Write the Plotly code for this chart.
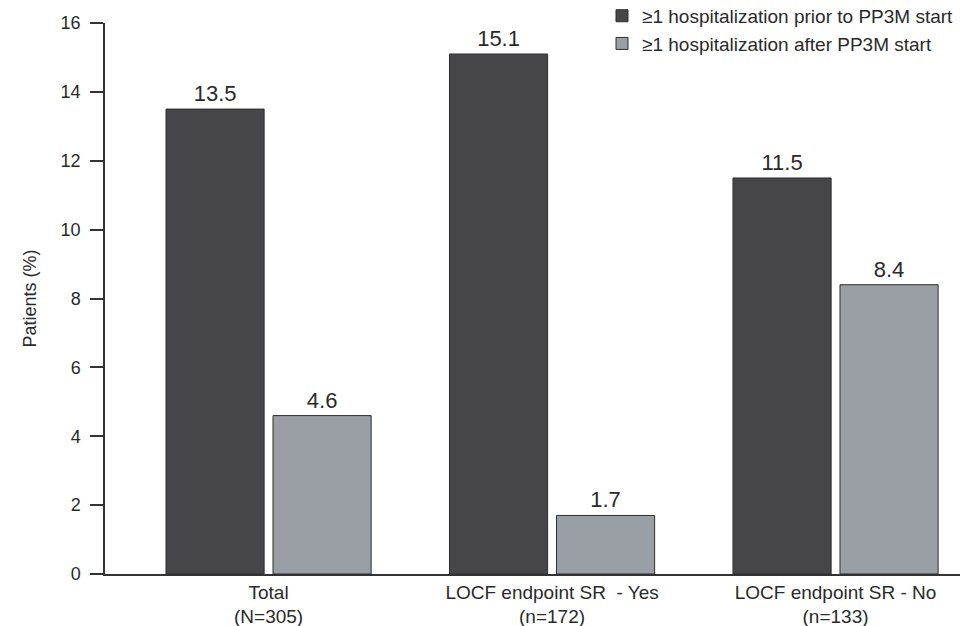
import plotly.graph_objects as go

categories = ["Total<br>(N=305)", "LOCF endpoint SR  - Yes<br>(n=172)", "LOCF endpoint SR - No<br>(n=133)"]
prior_values = [13.5, 15.1, 11.5]
after_values = [4.6, 1.7, 8.4]
series_names = ["\u22651 hospitalization prior to PP3M start", "\u22651 hospitalization after PP3M start"]
y_ticks = [0, 2, 4, 6, 8, 10, 12, 14, 16]

FONT = "Liberation Sans, Arial, Helvetica, sans-serif"
TXT = "#2a2a2a"

W, H = 963, 626
ML, MR, MT, MB = 5, 0, 0, 5
PW, PH = W - ML - MR, H - MT - MB
x_dom = [(105 - ML) / PW, (960 - ML) / PW]
y_dom = [(H - MB - 574) / PH, (H - MB - 23) / PH]

fig = go.Figure()
fig.add_trace(go.Bar(
    x=categories, y=prior_values, name=series_names[0],
    marker=dict(color="#464648", line=dict(color="#2e2e2e", width=1)),
    text=[f"{v:.1f}" for v in prior_values], textposition="outside",
    textfont=dict(size=22, color=TXT, family=FONT), cliponaxis=False,
))
fig.add_trace(go.Bar(
    x=categories, y=after_values, name=series_names[1],
    marker=dict(color="#9a9ea5", line=dict(color="#2e2e2e", width=1)),
    text=[f"{v:.1f}" for v in after_values], textposition="outside",
    textfont=dict(size=22, color=TXT, family=FONT), cliponaxis=False,
))

fig.update_layout(
    width=W, height=H,
    margin=dict(l=ML, r=MR, t=MT, b=MB, autoexpand=False),
    paper_bgcolor="white", plot_bgcolor="white",
    font=dict(family=FONT, color=TXT, size=18),
    barmode="group", bargap=0.245, bargroupgap=0.083,
    showlegend=True,
    legend=dict(x=(602 - ML) / PW, y=1.005, xanchor="left", yanchor="top",
                font=dict(size=19, color=TXT, family=FONT),
                bgcolor="rgba(0,0,0,0)", tracegroupgap=2, itemwidth=30),
    xaxis=dict(
        type="category", range=[-0.577, 2.439], domain=x_dom,
        showline=True, linecolor="#333333", linewidth=1.5,
        ticks="", showgrid=False, zeroline=False,
        tickfont=dict(size=19, color=TXT, family=FONT),
    ),
    yaxis=dict(
        range=[0, 16], domain=y_dom, tickvals=y_ticks, ticktext=[str(t) for t in y_ticks],
        showline=True, linecolor="#333333", linewidth=1.5,
        ticks="outside", ticklen=13, tickwidth=1.5, tickcolor="#333333",
        ticklabelstandoff=6,
        showgrid=False, zeroline=False,
        tickfont=dict(size=18, color=TXT, family=FONT),
        title=dict(text="Patients (%)", font=dict(size=18, color=TXT, family=FONT), standoff=19),
    ),
)

fig.write_html("out.html", config={"displayModeBar": False},
               post_script="document.body.style.margin='0px';")
